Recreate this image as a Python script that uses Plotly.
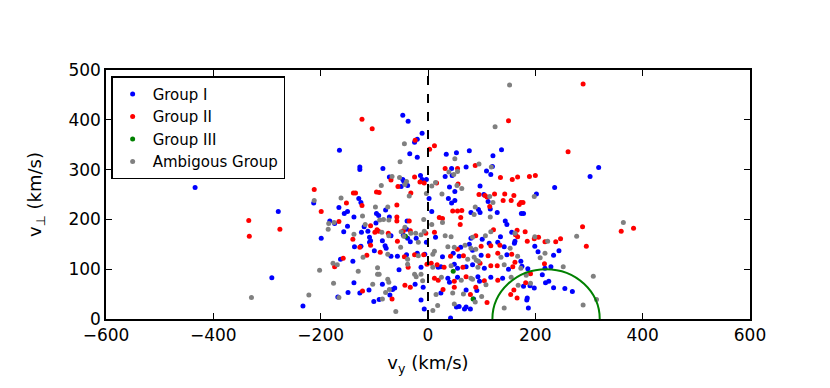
import numpy as np
import plotly.graph_objects as go


# Group I (blue): (v_y, v_perp) in km/s
G1_VY = [
    -434, -47, -37, -11, -20, -25, -165, -34, -20, 34, 53, 77, 137, 121, 120, 71, 44, 109, 117, 32,
    45, -127, -127, -84, -72, -47, -45, -14, -11, -3, -38, -50, 40, 50, 97, 104, 202, 318, 302, 236,
    174, 178, 162, 199, 205, 244, 234, 218, 229, 213, 219, 225, 198, 234, 255, 269, 161, 173, 175, 186,
    178, 190, 185, 184, 187, -213, -279, -199, -291, -233, -129, -125, -166, -79, -156, -96, -92, -138, -72, -183,
    -174, -150, -119, -97, -124, -157, -112, -109, -69, -85, -107, -46, -150, 2, 38, 44, 50, 112, 116, 80,
    97, 94, 7, 129, 144, 147, -39, -40, -38, -22, 14, 80, 101, 135, 156, -137, -125, -109, -80, -78,
    -100, -69, -57, -163, -140, -54, -138, -85, -110, -127, -149, -62, -66, -71, -168, -91, -101, -33, -3, 47,
    61, 77, 83, 114, 130, 142, -40, -20, -6, 27, 58, 99, 147, 19, 24, 49, 55, 71, 83, 105,
    150, -13, 37, 40, 55, 93, 96, 117, 139, -24, -9, 24, 71, 91, 85, 71, 79, -13, 42, 58,
    -7, 53, 68,
]
G1_VP = [
    264, 409, 397, 373, 361, 355, 339, 332, 325, 331, 334, 338, 340, 328, 306, 305, 302, 297, 290, 286,
    288, 305, 300, 302, 285, 280, 276, 288, 280, 280, 268, 266, 265, 256, 267, 250, 251, 304, 286, 264,
    212, 212, 156, 146, 135, 137, 128, 102, 105, 89, 73, 76, 62, 63, 61, 55, 152, 116, 106, 101,
    66, 67, 42, 38, 22, 233, 216, 162, 83, 26, 242, 234, 224, 219, 212, 212, 208, 205, 205, 197,
    192, 186, 185, 193, 174, 175, 176, 164, 167, 157, 157, 168, 216, 242, 242, 233, 238, 236, 221, 214,
    214, 220, 216, 214, 197, 190, 197, 180, 162, 162, 164, 162, 160, 165, 174, 145, 146, 154, 147, 142,
    137, 126, 126, 120, 116, 99, 73, 70, 58, 52, 53, 62, 59, 48, 44, 39, 35, 155, 154, 132,
    144, 150, 138, 152, 154, 145, 129, 132, 130, 125, 126, 128, 129, 104, 105, 110, 102, 105, 109, 102,
    100, 104, 82, 74, 84, 85, 76, 84, 82, 70, 64, 52, 58, 57, 40, 24, 20, 38, 2, 25,
    20, 24, 20,
]

# Group II (red)
G2_VY = [
    -212, -123, -104, 150, -24, 12, 3, 88, 55, 32, 135, 157, 167, 189, 200, -69, -25, -15, -7, -56,
    56, -139, -135, -96, -91, -32, 95, 106, 124, 143, 160, 289, 261, 173, 177, 170, 360, 288, 166, 181,
    163, 167, 206, 198, 185, 218, 238, 247, 383, 295, 217, 162, 182, 191, 160, -199, -334, -276, -333, -123,
    -152, -58, -58, -58, -166, -107, -95, -99, -92, -74, -140, -57, 16, 110, 140, 155, 115, 46, 55, 63,
    21, 27, 60, 61, -35, -33, -46, -4, 12, 89, 122, -127, -107, -89, -114, -158, -174, -122, -67, 55,
    99, 117, 134, -44, -25, -8, 42, 66, 112, 130, 156, -2, 6, 17, 30, 65, 97, 117, 129, 158,
    -37, 12, 19, 49, 71, 105, 130, -43, -33, 49, 79, 89, 110, 28, 166, 154,
]
G2_VP = [
    260, 401, 382, 398, 359, 348, 341, 308, 302, 302, 284, 280, 285, 286, 288, 279, 285, 275, 273, 266,
    271, 253, 253, 255, 254, 253, 250, 248, 251, 251, 248, 472, 336, 234, 234, 230, 176, 185, 178, 175,
    169, 165, 164, 161, 156, 155, 155, 161, 182, 146, 111, 114, 73, 91, 58, 216, 198, 180, 166, 228,
    233, 229, 205, 197, 196, 187, 179, 174, 176, 172, 160, 156, 273, 245, 238, 238, 226, 217, 217, 218,
    204, 202, 190, 204, 197, 177, 177, 172, 174, 167, 179, 144, 148, 134, 128, 122, 105, 56, 40, 140,
    146, 147, 148, 125, 129, 129, 126, 127, 127, 132, 130, 110, 112, 109, 104, 104, 112, 107, 107, 105,
    104, 82, 78, 76, 85, 77, 78, 68, 64, 64, 49, 64, 33, 59, 42, 49,
]

# Group III (green)
G3_VY = [-42, 47, 84]
G3_VP = [166, 96, 40]

# Ambiguous group (gray)
GA_VY = [
    152, 125, -44, -52, 50, 95, 118, 39, 55, -67, -53, 14, 7, -43, -87, 54, 63, -3, 26, 198,
    364, 277, 199, 223, 218, 209, 252, 308, 314, 289, 167, 173, 183, 168, 191, -212, -202, -329, -222, -162,
    -98, -75, -90, -122, -83, -73, -185, -186, -117, -138, -86, -73, -50, -175, -40, 48, -35, 115, 121, 88,
    86, 27, -8, 7, 116, -43, -45, -32, -23, -7, -13, 32, 43, 83, 107, 117, 162, -51, -121, -75,
    -177, -169, -130, -94, -94, -91, -75, -73, -176, -103, -72, -79, -166, -85, -60, -18, 37, 49, 69, 80,
    89, 153, -38, -18, 9, 12, 74, 86, 90, 94, 136, 9, 43, 93, 142, -38, -25, -13, -22, 25,
    62, 80, 83, 108, 155, -10, 46, 66, 100, 88, 18, 9, 49, 15, 142,
]
GA_VP = [
    470, 386, 352, 316, 322, 311, 305, 295, 296, 286, 284, 274, 267, 270, 268, 268, 262, 252, 251, 246,
    194, 166, 165, 156, 132, 123, 105, 86, 39, 28, 126, 102, 88, 68, 72, 238, 98, 43, 48, 243,
    225, 225, 199, 207, 200, 199, 192, 180, 190, 170, 174, 167, 175, 194, 276, 290, 247, 246, 234, 225,
    210, 194, 200, 190, 205, 184, 166, 172, 172, 176, 169, 167, 165, 164, 167, 175, 172, 144, 124, 130,
    112, 109, 96, 103, 90, 90, 80, 74, 72, 70, 59, 53, 43, 40, 15, 154, 145, 144, 148, 142,
    140, 142, 120, 127, 130, 136, 120, 124, 118, 116, 124, 104, 107, 104, 109, 110, 90, 90, 85, 84,
    78, 82, 80, 69, 84, 77, 52, 50, 45, 34, 27, 17, 30, 49, 22,
]

CIRCLE_CENTER = 220
CIRCLE_RADIUS = 100

FONT = "DejaVu Sans"


def group_trace(vy, vp, name, color):
    return go.Scatter(
        x=vy,
        y=vp,
        mode="markers",
        name=name,
        marker=dict(color=color, size=5, line=dict(width=0)),
    )


fig = go.Figure()

fig.add_trace(group_trace(G1_VY, G1_VP, "Group I", "#0000ff"))
fig.add_trace(group_trace(G2_VY, G2_VP, "Group II", "#ff0000"))
fig.add_trace(group_trace(G3_VY, G3_VP, "Group III", "#008000"))
fig.add_trace(group_trace(GA_VY, GA_VP, "Ambigous Group", "#808080"))

# semicircle around the Group III region
fig.add_shape(
    type="circle",
    xref="x",
    yref="y",
    x0=CIRCLE_CENTER - CIRCLE_RADIUS,
    x1=CIRCLE_CENTER + CIRCLE_RADIUS,
    y0=-CIRCLE_RADIUS,
    y1=CIRCLE_RADIUS,
    line=dict(color="#008000", width=2),
)

# v_y = 0 reference
fig.add_vline(x=0, line_color="black", line_dash="dash", line_width=2)

axis_style = dict(
    showline=True,
    linecolor="black",
    linewidth=1.5,
    mirror="ticks",
    ticks="inside",
    ticklen=6,
    tickcolor="black",
    showgrid=False,
    zeroline=False,
    automargin=False,
    tickfont=dict(family=FONT, size=17, color="black"),
)

fig.update_xaxes(
    range=[-600, 600],
    tickvals=[-600, -400, -200, 0, 200, 400, 600],
    title=dict(text="v<sub>y</sub> (km/s)", font=dict(family=FONT, size=18), standoff=12),
    **axis_style,
)
fig.update_yaxes(
    range=[0, 500],
    tickvals=[0, 100, 200, 300, 400, 500],
    title=dict(text="v<sub>⊥</sub> (km/s)", font=dict(family=FONT, size=18), standoff=22),
    **axis_style,
)

fig.update_layout(
    width=830,
    height=388,
    margin=dict(l=98, r=88, t=62, b=77),
    paper_bgcolor="white",
    plot_bgcolor="white",
    font=dict(family=FONT, color="black"),
    legend=dict(
        x=0.008,
        y=0.975,
        xanchor="left",
        yanchor="top",
        bgcolor="white",
        bordercolor="black",
        borderwidth=1.5,
        font=dict(family=FONT, size=15),
    ),
)

fig.write_html("out.html")
